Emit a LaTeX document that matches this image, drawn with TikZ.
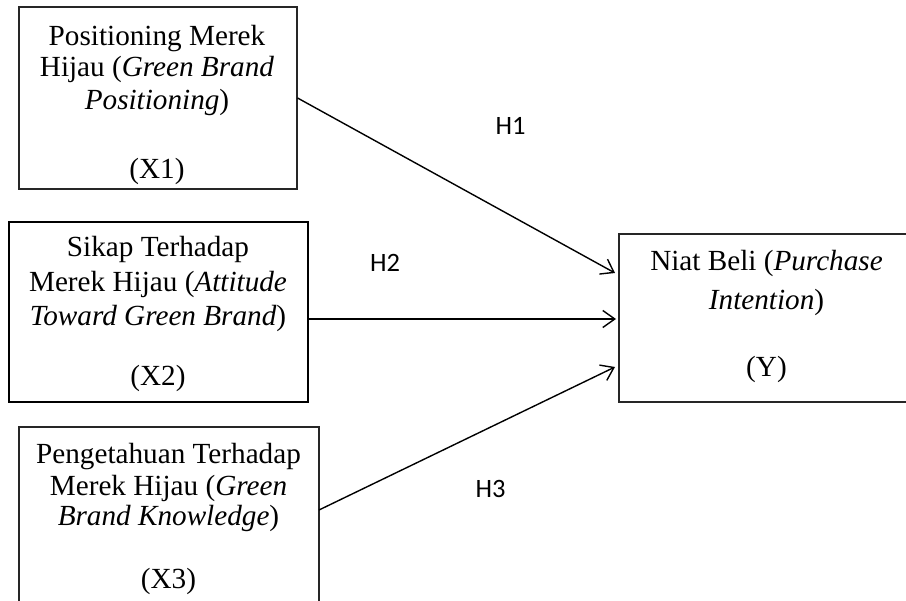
\documentclass[tikz,border=0pt]{standalone}
\usepackage{fontspec}
\setmainfont{Liberation Serif}
\newfontfamily\hfont{Carlito}
\usetikzlibrary{arrows.meta}
\begin{document}
\begin{tikzpicture}[x=1pt,y=-1pt,
  boxthin/.style={draw=black!85, line width=1.1pt, rectangle, inner sep=0pt},
  boxthick/.style={draw=black, line width=2pt, rectangle, inner sep=0pt},
  txt/.style={anchor=base, inner sep=0pt, font=\fontsize{29.2}{34}\selectfont},
  hl/.style={anchor=base west, inner sep=0pt, font=\hfont\fontsize{26.5}{30}\selectfont},
  arr/.style={-{Straight Barb[length=12pt,width=17pt,line width=1.4pt]}, line width=1.4pt, black}]
\useasboundingbox (0,0) rectangle (906,601);
\begin{scope}
\clip (0,0) rectangle (906,601);
% boxes
\node[boxthin, minimum width=278, minimum height=182] (x1) at (158,98) {};
\node[boxthick, minimum width=299, minimum height=180] (x2) at (158.5,312) {};
\node[boxthin, minimum width=300, minimum height=193] (x3) at (169,523.5) {};
\node[boxthin, minimum width=320, minimum height=168] (y) at (779,318) {};
\end{scope}
% X1 text
\node[txt] (x1a) at (157,45.5) {Positioning Merek};
\node[txt] (x1b) at (157,77) {Hijau (\textit{Green Brand}};
\node[txt] (x1c) at (157,110) {\textit{Positioning})};
\node[txt] (x1d) at (157,179) {(X1)};
% X2 text
\node[txt] (x2a) at (158,257) {Sikap Terhadap};
\node[txt] (x2b) at (158,292) {Merek Hijau (\textit{Attitude}};
\node[txt] (x2c) at (158,325.5) {\textit{Toward Green Brand})};
\node[txt] (x2d) at (158,385.5) {(X2)};
% X3 text
\node[txt] (x3a) at (168.5,464) {Pengetahuan Terhadap};
\node[txt] (x3b) at (168.5,496) {Merek Hijau (\textit{Green}};
\node[txt] (x3c) at (168.5,526) {\textit{Brand Knowledge})};
\node[txt] (x3d) at (168.5,589) {(X3)};
% Y text
\node[txt] (ya) at (766.5,271) {Niat Beli (\textit{Purchase}};
\node[txt] (yb) at (766.5,310) {\textit{Intention})};
\node[txt] (yc) at (766.5,377) {(Y)};
% arrow end points
\coordinate (t1) at (615,273);
\coordinate (t2) at (616,319);
\coordinate (t3) at (615,367);
\coordinate (s3) at (319,510);
% arrows
\draw[arr] (x1.east) -- (t1);
\draw[arr] (x2.east |- t2) -- (t2);
\draw[arr] (s3) -- (t3);
% labels
\node[hl] (h1) at (495.5,134.5) {H1};
\node[hl] (h2) at (370,271.5) {H2};
\node[hl] (h3) at (475.5,497.5) {H3};
\end{tikzpicture}
\end{document}
